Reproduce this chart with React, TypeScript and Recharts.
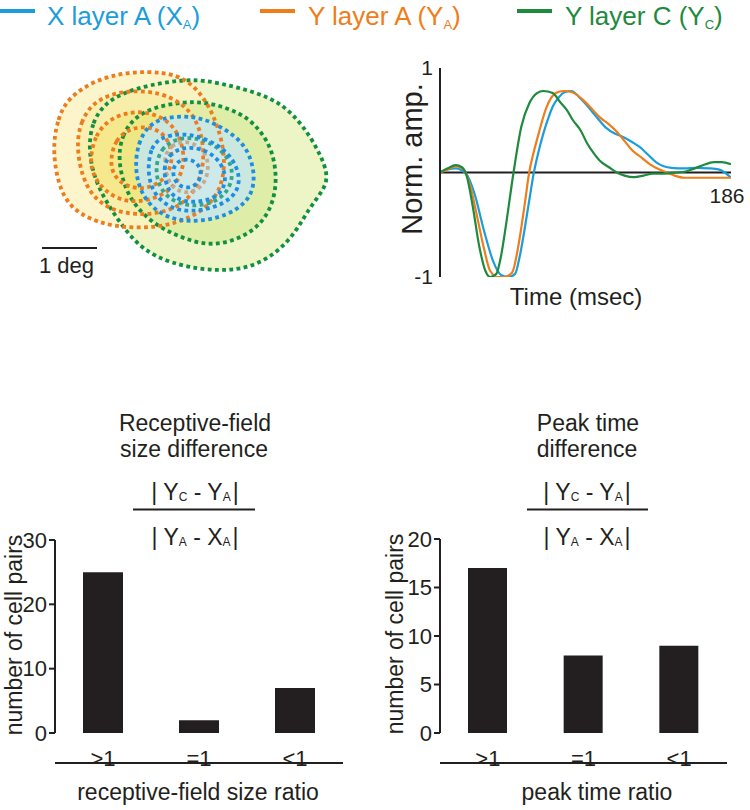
import { ScatterChart, Scatter, LineChart, Line, BarChart, Bar, XAxis, YAxis, ReferenceLine } from 'recharts'

const INK = '#231f20'
const FONT = '"Liberation Sans", Arial, Helvetica, sans-serif'

// series (legend order)
const seriesNames = ['X layer A', 'Y layer A', 'Y layer C']
const seriesLetters = ['X', 'Y', 'Y']
const seriesSubs = ['A', 'A', 'C']
const seriesColors = ['#1b9ddb', '#ee7d1a', '#1e8a3e']

// temporal impulse responses: time (msec) / normalised amplitude
const xaTime = [0, 5, 10, 17, 22, 28, 34, 39, 44, 48, 51, 54, 57, 60, 63, 66, 69, 72, 76, 80, 84, 89, 94, 99, 106, 112, 117, 123, 128, 133, 138, 143, 148, 156, 164, 172, 178, 182, 186]
const xaAmp = [0, 0.03, 0.04, -0.02, -0.2, -0.55, -0.85, -0.98, -1.0, -0.97, -0.8, -0.55, -0.27, 0, 0.2, 0.37, 0.51, 0.63, 0.72, 0.77, 0.78, 0.72, 0.64, 0.55, 0.43, 0.37, 0.34, 0.29, 0.24, 0.17, 0.1, 0.06, 0.045, 0.04, 0.045, 0.04, 0.03, 0.0, -0.05]
const yaTime = [0, 5, 10, 15, 19, 23, 28, 32, 37, 41, 46, 51, 54, 57, 60, 63, 68, 74, 79, 84, 91, 97, 102, 108, 113, 118, 123, 129, 134, 140, 145, 150, 156, 165, 175, 186]
const yaAmp = [0, 0.03, 0.06, 0.03, -0.11, -0.37, -0.72, -0.94, -1.0, -1.0, -0.96, -0.62, -0.32, 0, 0.2, 0.37, 0.62, 0.76, 0.78, 0.77, 0.7, 0.61, 0.53, 0.46, 0.39, 0.3, 0.21, 0.14, 0.08, 0.03, 0, -0.03, -0.05, -0.05, -0.05, -0.05]
const ycTime = [0, 5, 10, 14, 17, 21, 25, 29, 32, 36, 39, 42, 47, 52, 57, 62, 66, 72, 77, 81, 85, 90, 94, 98, 102, 108, 113, 118, 124, 130, 136, 144, 151, 157, 162, 168, 175, 180, 186]
const ycAmp = [0, 0.04, 0.07, 0.05, -0.03, -0.33, -0.7, -0.94, -1.0, -0.97, -0.8, -0.52, 0, 0.44, 0.66, 0.76, 0.78, 0.76, 0.67, 0.6, 0.5, 0.4, 0.28, 0.19, 0.115, 0.05, 0, -0.03, -0.045, -0.03, -0.01, -0.01, 0, 0.01, 0.035, 0.07, 0.1, 0.1, 0.08]

// receptive-field contours, visual degrees [x, y]
const yaRing1 = [[0.58, 2.73], [0.69, 3.31], [0.87, 3.67], [1.36, 4.0], [1.96, 4.15], [2.64, 4.15], [3.05, 4.0], [3.36, 3.67], [3.6, 3.18], [3.75, 2.55], [3.64, 1.91], [3.18, 1.51], [2.55, 1.31], [1.73, 1.31], [1.09, 1.53], [0.73, 1.91]]
const yaRing2 = [[1.02, 2.73], [1.09, 3.24], [1.36, 3.64], [1.91, 3.82], [2.55, 3.78], [3.0, 3.55], [3.27, 3.18], [3.38, 2.55], [3.18, 1.91], [2.73, 1.6], [2.09, 1.53], [1.55, 1.67], [1.18, 2.04]]
const yaRing3 = [[1.27, 2.55], [1.36, 3.0], [1.64, 3.31], [2.09, 3.45], [2.55, 3.36], [2.87, 3.09], [3.02, 2.58], [2.87, 2.09], [2.45, 1.82], [1.91, 1.76], [1.51, 2.0], [1.33, 2.27]]
const yaRing4 = [[1.64, 2.55], [1.73, 2.91], [2.0, 3.13], [2.36, 3.16], [2.67, 3.0], [2.8, 2.58], [2.65, 2.18], [2.27, 2.0], [1.91, 2.07], [1.69, 2.27]]
const yaCore = [[2.6, 2.55], [2.73, 2.82], [3.05, 2.91], [3.36, 2.73], [3.45, 2.4], [3.33, 2.04], [3.0, 1.91], [2.69, 2.09]]
const ycRing1 = [[1.24, 2.73], [1.31, 3.24], [1.55, 3.58], [1.91, 3.78], [2.36, 3.91], [2.91, 4.0], [3.36, 4.0], [3.95, 3.87], [4.55, 3.69], [4.96, 3.4], [5.33, 2.91], [5.64, 2.27], [5.49, 1.96], [5.24, 1.64], [5.02, 1.24], [4.67, 0.85], [4.13, 0.55], [3.4, 0.53], [2.73, 0.67], [2.24, 0.91], [1.91, 1.27], [1.6, 1.73], [1.36, 2.18]]
const ycRing2 = [[1.78, 2.55], [1.85, 3.0], [2.09, 3.33], [2.45, 3.51], [2.96, 3.6], [3.36, 3.6], [3.78, 3.49], [4.15, 3.31], [4.4, 3.04], [4.58, 2.73], [4.67, 2.27], [4.62, 1.82], [4.44, 1.45], [4.15, 1.2], [3.78, 1.04], [3.36, 1.0], [2.95, 1.13], [2.55, 1.31], [2.18, 1.6], [1.91, 2.0]]
const ycRing3 = [[2.45, 2.36], [2.55, 2.76], [2.87, 2.95], [3.27, 2.95], [3.64, 2.76], [3.87, 2.45], [3.85, 2.09], [3.64, 1.82], [3.24, 1.69], [2.82, 1.76], [2.55, 2.0]]
const xaRing1 = [[2.09, 2.45], [2.15, 2.85], [2.31, 3.15], [2.58, 3.31], [3.0, 3.35], [3.36, 3.29], [3.69, 3.13], [4.0, 2.91], [4.18, 2.64], [4.27, 2.27], [4.22, 1.91], [3.96, 1.64], [3.55, 1.47], [3.09, 1.42], [2.69, 1.49], [2.36, 1.71], [2.16, 2.04]]
const xaRing2 = [[2.33, 2.45], [2.38, 2.76], [2.55, 2.96], [2.96, 3.04], [3.4, 2.93], [3.76, 2.71], [3.96, 2.4], [4.0, 2.09], [3.85, 1.84], [3.51, 1.67], [3.09, 1.6], [2.73, 1.67], [2.45, 1.91], [2.35, 2.18]]
const xaRing3 = [[2.6, 2.36], [2.69, 2.64], [3.0, 2.8], [3.4, 2.73], [3.67, 2.49], [3.76, 2.18], [3.64, 1.91], [3.33, 1.78], [2.96, 1.78], [2.69, 1.95]]
const xaRing4 = [[2.76, 2.33], [2.84, 2.51], [3.04, 2.58], [3.24, 2.49], [3.31, 2.29], [3.22, 2.09], [3.02, 2.02], [2.84, 2.11]]

// population histograms
const ratioLabels = ['>1', '=1', '<1']
const sizeCounts = [25, 2, 7]
const peakCounts = [17, 8, 9]
const sizeTicks = [0, 10, 20, 30]
const peakTicks = [0, 5, 10, 15, 20]

const toPts = (ring: number[][]) => ring.map(([x, y]) => ({ x, y }))
const noDot = () => <g />

const fills = [
  { ring: ycRing1, color: '#edf4c6', op: 1 },
  { ring: yaRing1, color: '#fbf2bf', op: 0.82 },
  { ring: ycRing2, color: '#d4e792', op: 0.6 },
  { ring: yaRing2, color: '#f7ea96', op: 0.5 },
  { ring: yaRing3, color: '#f2e168', op: 0.45 },
  { ring: xaRing1, color: '#c8e6e5', op: 0.92 },
  { ring: xaRing2, color: '#d1ecf2', op: 0.5 },
]

const ORANGE = '#ee7b1c'
const DKGREEN = '#12903f'
const BLUE = '#1d8fe0'
const outlines = [
  { ring: ycRing1, color: DKGREEN },
  { ring: ycRing2, color: DKGREEN },
  { ring: yaRing1, color: ORANGE },
  { ring: yaRing2, color: ORANGE },
  { ring: yaRing3, color: ORANGE },
  { ring: yaRing4, color: ORANGE },
  { ring: ycRing3, color: '#34a68c' },
  { ring: yaCore, color: '#c4aa8e' },
  { ring: xaRing1, color: BLUE },
  { ring: xaRing2, color: BLUE },
  { ring: xaRing3, color: BLUE },
  { ring: xaRing4, color: BLUE },
]

function ReceptiveFields() {
  return (
    <ScatterChart width={330} height={260} margin={{ top: 0, right: 0, bottom: 0, left: 0 }}>
      <XAxis type="number" dataKey="x" domain={[0, 6]} allowDataOverflow hide />
      <YAxis type="number" dataKey="y" domain={[0, 4.727]} allowDataOverflow hide />
      {fills.map((f, i) => (
        <Scatter
          key={'f' + i}
          data={toPts(f.ring)}
          shape={noDot}
          line={{ stroke: 'none', fill: f.color, fillOpacity: f.op }}
          lineJointType="basisClosed"
          isAnimationActive={false}
        />
      ))}
      {outlines.map((o, i) => (
        <Scatter
          key={'o' + i}
          data={toPts(o.ring)}
          shape={noDot}
          line={{ stroke: o.color, fill: 'none', strokeWidth: 3.8, strokeDasharray: '3.8 3.4' }}
          lineJointType="basisClosed"
          isAnimationActive={false}
        />
      ))}
      <ReferenceLine segment={[{ x: 0.4, y: 0.945 }, { x: 1.4, y: 0.945 }]} stroke={INK} strokeWidth={2} />
    </ScatterChart>
  )
}

const toSeries = (t: number[], a: number[]) => t.map((time, i) => ({ time, amp: a[i] }))
const responses = [
  { data: toSeries(xaTime, xaAmp), color: seriesColors[0] },
  { data: toSeries(yaTime, yaAmp), color: seriesColors[1] },
  { data: toSeries(ycTime, ycAmp), color: seriesColors[2] },
]

function Responses() {
  return (
    <LineChart width={370} height={260} margin={{ top: 18, right: 19, bottom: 33, left: 0 }}>
      <XAxis type="number" dataKey="time" domain={[0, 186]} allowDataOverflow hide />
      <YAxis
        type="number"
        domain={[-1, 1]}
        ticks={[-1, 1]}
        allowDataOverflow
        width={60}
        axisLine={{ stroke: INK, strokeWidth: 2 }}
        tickLine={false}
        tickSize={0}
        tickMargin={7}
        tick={{ fill: INK, fontSize: 21 }}
      />
      <ReferenceLine y={0} stroke={INK} strokeWidth={2} />
      {responses.map((r, i) => (
        <Line
          key={i}
          data={r.data}
          dataKey="amp"
          type="monotone"
          stroke={r.color}
          strokeWidth={2.2}
          dot={false}
          activeDot={false}
          isAnimationActive={false}
        />
      ))}
    </LineChart>
  )
}

interface CountProps {
  counts: number[]
  ticks: number[]
  yWidth: number
  top: number
  right: number
  barSize: number
}

function CountChart({ counts, ticks, yWidth, top, right, barSize }: CountProps) {
  const rows = ratioLabels.map((name, i) => ({ name, count: counts[i] }))
  return (
    <BarChart width={375} height={440} data={rows} margin={{ top, right, bottom: 46, left: 0 }}>
      <XAxis
        xAxisId="edge"
        type="number"
        domain={[0, 3]}
        ticks={[0, 1, 2, 3]}
        allowDataOverflow
        height={1}
        tick={false}
        tickSize={7}
        axisLine={{ stroke: INK, strokeWidth: 2 }}
        tickLine={{ stroke: INK, strokeWidth: 2 }}
      />
      <XAxis
        xAxisId="cat"
        dataKey="name"
        height={30}
        interval={0}
        axisLine={false}
        tickLine={false}
        tickSize={0}
        tickMargin={17}
        tick={{ fill: INK, fontSize: 22 }}
      />
      <YAxis
        domain={[0, ticks[ticks.length - 1]]}
        ticks={ticks}
        allowDataOverflow
        width={yWidth}
        axisLine={{ stroke: INK, strokeWidth: 2 }}
        tickLine={{ stroke: INK, strokeWidth: 2 }}
        tickSize={6}
        tickMargin={2}
        tick={{ fill: INK, fontSize: 22 }}
      />
      <Bar xAxisId="cat" dataKey="count" fill={INK} barSize={barSize} isAnimationActive={false} />
    </BarChart>
  )
}

function Fraction({ cx, x1, x2 }: { cx: number; x1: number; x2: number }) {
  return (
    <g fontSize={23} fill={INK} textAnchor="middle">
      <text x={cx} y={500}>
        | Y<tspan fontSize={12} dy={1}>C</tspan>
        <tspan dy={-1}> - Y</tspan>
        <tspan fontSize={12} dy={1}>A</tspan>
        <tspan dy={-1} dx={2}>|</tspan>
      </text>
      <line x1={x1} x2={x2} y1={509.5} y2={509.5} stroke={INK} strokeWidth={2} />
      <text x={cx} y={545}>
        | Y<tspan fontSize={12} dy={1}>A</tspan>
        <tspan dy={-1}> - X</tspan>
        <tspan fontSize={12} dy={1}>A</tspan>
        <tspan dy={-1} dx={2}>|</tspan>
      </text>
    </g>
  )
}

const legendDashX = [0, 260, 517]
const legendTextX = [47, 308, 565]

function Overlay() {
  return (
    <svg width={750} height={810} style={{ position: 'absolute', left: 0, top: 0, pointerEvents: 'none' }}>
      {seriesNames.map((name, i) => (
        <g key={name} fill={seriesColors[i]}>
          <rect x={legendDashX[i]} y={9} width={35} height={4} />
          <text x={legendTextX[i]} y={24.5} fontSize={26}>
            {name} ({seriesLetters[i]}
            <tspan fontSize={13} dy={4}>{seriesSubs[i]}</tspan>
            <tspan dy={-4}>)</tspan>
          </text>
        </g>
      ))}

      <text x={39} y={273} fontSize={22} fill={INK}>1 deg</text>

      <text transform="translate(422,159) rotate(-90)" textAnchor="middle" fontSize={29} fill={INK}>Norm. amp.</text>
      <text x={576} y={305} textAnchor="middle" fontSize={24} fill={INK}>Time (msec)</text>
      <text x={727} y={203} textAnchor="middle" fontSize={21} fill={INK}>186</text>

      <g fontSize={23} fill={INK} textAnchor="middle">
        <text x={195} y={431}>Receptive-field</text>
        <text x={194} y={457}>size difference</text>
        <text x={588} y={431}>Peak time</text>
        <text x={587} y={457}>difference</text>
        <text x={198} y={800}>receptive-field size ratio</text>
        <text x={597} y={800}>peak time ratio</text>
        <text transform="translate(22,635) rotate(-90)">number of cell pairs</text>
        <text transform="translate(403,634) rotate(-90)">number of cell pairs</text>
      </g>

      <Fraction cx={195} x1={133} x2={255} />
      <Fraction cx={587} x1={527} x2={648} />
    </svg>
  )
}

export default function App() {
  return (
    <div style={{ position: 'absolute', left: 0, top: 0, width: 750, height: 810, background: '#fff', fontFamily: FONT }}>
      <div style={{ position: 'absolute', left: 20, top: 40 }}>
        <ReceptiveFields />
      </div>
      <div style={{ position: 'absolute', left: 380, top: 50 }}>
        <Responses />
      </div>
      <div style={{ position: 'absolute', left: 0, top: 370 }}>
        <CountChart counts={sizeCounts} ticks={sizeTicks} yWidth={55} top={170} right={32} barSize={40} />
      </div>
      <div style={{ position: 'absolute', left: 375, top: 370 }}>
        <CountChart counts={peakCounts} ticks={peakTicks} yWidth={65} top={169} right={23} barSize={39} />
      </div>
      <Overlay />
    </div>
  )
}
